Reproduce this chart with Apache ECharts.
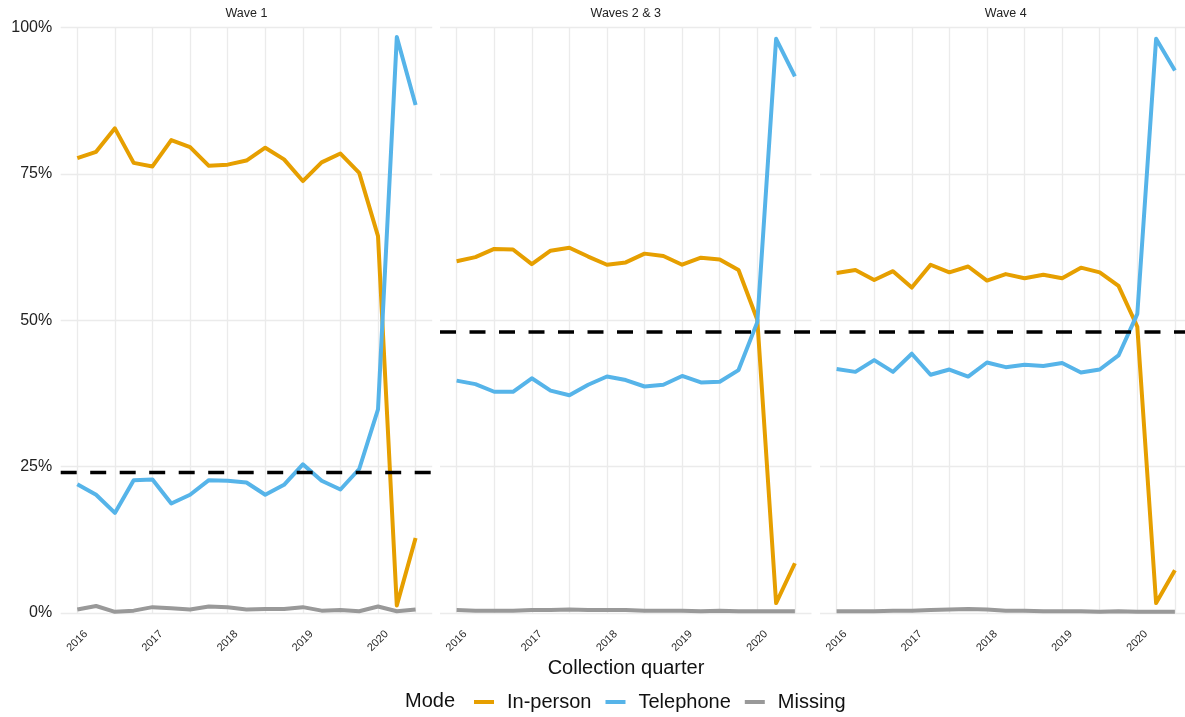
<!DOCTYPE html>
<html>
<head>
<meta charset="utf-8">
<script src="https://cdn.jsdelivr.net/npm/echarts@6/dist/echarts.min.js"></script>
<style>
  html, body { margin: 0; padding: 0; background: #ffffff; }
  #chart { width: 1185px; height: 717px; }
</style>
</head>
<body>
<div id="chart"></div>
<script>
// Collection quarters (decimal years)
const quarters = [2016, 2016.25, 2016.5, 2016.75, 2017, 2017.25, 2017.5, 2017.75,
  2018, 2018.25, 2018.5, 2018.75, 2019, 2019.25, 2019.5, 2019.75, 2020, 2020.25, 2020.5];

const waves = ['Wave 1', 'Waves 2 & 3', 'Wave 4'];
const modes = ['In-person', 'Telephone', 'Missing'];
const modeColors = ['#E69F00', '#56B4E9', '#999999'];

// Share of interviews by mode (%)
const inPersonW1 = [77.7, 78.8, 82.8, 76.9, 76.3, 80.8, 79.6, 76.4, 76.6, 77.3, 79.5, 77.5, 73.8, 77.0, 78.5, 75.2, 64.4, 1.3, 12.8];
const telephoneW1 = [22.0, 20.2, 17.1, 22.7, 22.8, 18.7, 20.2, 22.7, 22.6, 22.3, 20.2, 21.9, 25.4, 22.6, 21.1, 24.6, 34.8, 98.4, 86.8];
const missingW1 = [0.6, 1.2, 0.2, 0.4, 1.0, 0.8, 0.6, 1.1, 1.0, 0.6, 0.7, 0.7, 1.0, 0.4, 0.5, 0.3, 1.1, 0.3, 0.6];

const inPersonW23 = [60.1, 60.8, 62.2, 62.1, 59.6, 61.9, 62.4, 60.9, 59.5, 59.9, 61.4, 61.0, 59.5, 60.7, 60.4, 58.6, 50.1, 1.7, 8.5];
const telephoneW23 = [39.7, 39.1, 37.8, 37.8, 40.1, 38.0, 37.2, 39.0, 40.4, 39.8, 38.7, 39.0, 40.5, 39.4, 39.5, 41.5, 49.7, 98.1, 91.7];
const missingW23 = [0.5, 0.4, 0.4, 0.4, 0.5, 0.5, 0.6, 0.5, 0.5, 0.5, 0.4, 0.4, 0.4, 0.3, 0.4, 0.3, 0.3, 0.3, 0.3];

const inPersonW4 = [58.1, 58.6, 56.9, 58.4, 55.6, 59.5, 58.2, 59.2, 56.8, 57.9, 57.2, 57.8, 57.2, 59.0, 58.2, 55.9, 48.9, 1.7, 7.3];
const telephoneW4 = [41.7, 41.2, 43.2, 41.2, 44.3, 40.7, 41.6, 40.4, 42.8, 42.0, 42.4, 42.2, 42.7, 41.1, 41.6, 44.0, 51.1, 98.1, 92.7];
const missingW4 = [0.3, 0.3, 0.3, 0.4, 0.4, 0.5, 0.6, 0.7, 0.6, 0.4, 0.4, 0.3, 0.3, 0.3, 0.2, 0.3, 0.2, 0.2, 0.2];

// Reference level per wave (%)
const thresholds = [24, 48, 48];

const yTicks = [0, 25, 50, 75, 100];

const seriesByWave = [
  [inPersonW1, telephoneW1, missingW1],
  [inPersonW23, telephoneW23, missingW23],
  [inPersonW4, telephoneW4, missingW4]
];

// Panel geometry (pixels)
const panelLefts = [60.7, 440, 820];
const panelWidth = 371.5;
const panelTop = 27.7;
const panelHeight = 585.3;
const dataInset = 16.6;
const dataWidth = 338.3;

const FONT = '"Liberation Sans", Arial, sans-serif';
const GRID_COLOR = '#EBEBEB';

const grids = [], xAxes = [], yAxes = [], series = [], graphics = [];

waves.forEach((wave, i) => {
  const bg = 2 * i, fg = 2 * i + 1;
  // full-width panel: horizontal grid and reference line
  grids.push({ left: panelLefts[i], top: panelTop, width: panelWidth, height: panelHeight,
    outerBoundsMode: 'none', containLabel: false });
  // inner plotting area for the quarters
  grids.push({ left: panelLefts[i] + dataInset, top: panelTop, width: dataWidth, height: panelHeight,
    outerBoundsMode: 'none', containLabel: false });

  xAxes.push({ gridIndex: bg, type: 'value', min: 0, max: 1, show: false });
  xAxes.push({
    gridIndex: fg, type: 'value', min: 2016, max: 2020.5, interval: 0.5,
    axisLine: { show: false }, axisTick: { show: false },
    splitLine: { show: true, lineStyle: { color: GRID_COLOR, width: 1.3 } },
    axisLabel: {
      rotate: 45, align: 'center', verticalAlign: 'middle', margin: 28,
      fontSize: 11, color: '#2a2a2a', fontFamily: FONT,
      showMinLabel: true, showMaxLabel: true,
      formatter: v => (Number.isInteger(v) ? String(v) : '')
    }
  });

  yAxes.push({
    gridIndex: bg, type: 'value', min: 0, max: 100, interval: 25,
    axisLine: { show: false }, axisTick: { show: false },
    splitLine: { show: true, lineStyle: { color: GRID_COLOR, width: 1.3 } },
    axisLabel: { show: i === 0, margin: 8.5, fontSize: 16, color: '#222222', fontFamily: FONT,
      formatter: v => (yTicks.includes(v) ? v + '%' : '') }
  });
  yAxes.push({ gridIndex: fg, type: 'value', min: 0, max: 100, show: false });

  seriesByWave[i].forEach((vals, m) => {
    series.push({
      name: modes[m], type: 'line', xAxisIndex: fg, yAxisIndex: fg,
      data: quarters.map((q, k) => [q, vals[k]]),
      showSymbol: false, symbol: 'none', z: 3 + m,
      color: modeColors[m],
      lineStyle: { color: modeColors[m], width: 4, cap: 'butt', join: 'round' },
      silent: true
    });
  });

  series.push({
    name: 'threshold-' + i, type: 'line', xAxisIndex: bg, yAxisIndex: bg,
    data: [[0, thresholds[i]], [1, thresholds[i]]],
    symbol: 'none', z: 10, silent: true,
    lineStyle: { color: '#000000', width: 3.5, type: [16, 13.5], cap: 'butt' }
  });

  graphics.push({
    type: 'text', x: panelLefts[i] + panelWidth / 2, y: 14, silent: true,
    style: { text: wave, font: '12.5px ' + FONT, fill: '#222222',
      textAlign: 'center', textVerticalAlign: 'middle' }
  });
});

graphics.push({
  type: 'text', x: 626, y: 668, silent: true,
  style: { text: 'Collection quarter', font: '20px ' + FONT, fill: '#111111',
    textAlign: 'center', textVerticalAlign: 'middle' }
});
graphics.push({
  type: 'text', x: 405, y: 701, silent: true,
  style: { text: 'Mode', font: '20px ' + FONT, fill: '#111111',
    textAlign: 'left', textVerticalAlign: 'middle' }
});

const chart = echarts.init(document.getElementById('chart'), null, { renderer: 'canvas' });
chart.setOption({
  animation: false,
  backgroundColor: '#ffffff',
  grid: grids,
  xAxis: xAxes,
  yAxis: yAxes,
  legend: {
    data: modes, left: 469, top: 687, orient: 'horizontal',
    icon: 'rect', itemWidth: 20, itemHeight: 4, itemGap: 14,
    textStyle: { fontSize: 20, color: '#111111', fontFamily: FONT, padding: [0, 0, 0, 8] },
    selectedMode: false
  },
  graphic: graphics,
  series: series
});
</script>
</body>
</html>
